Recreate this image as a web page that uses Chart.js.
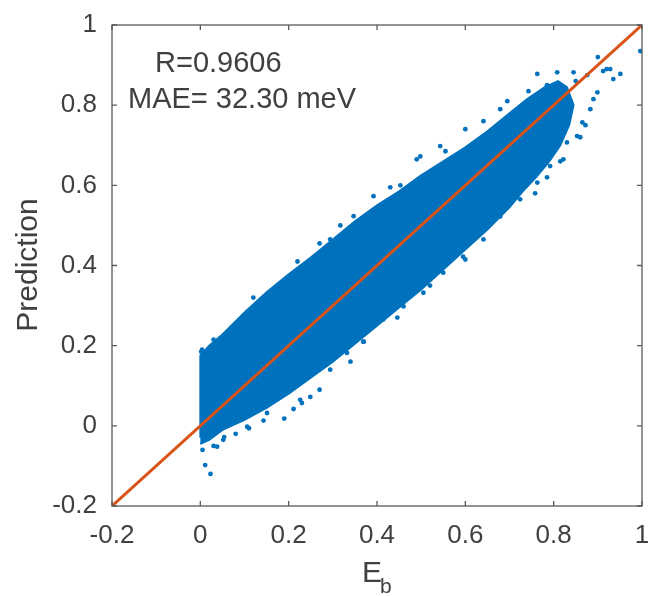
<!DOCTYPE html>
<html>
<head>
<meta charset="utf-8">
<title>Prediction vs Eb</title>
<script src="https://cdn.jsdelivr.net/npm/chart.js@4.4.0/dist/chart.umd.min.js"></script>
<style>
    body { margin: 0; background: #fff; }
    #wrap { width: 649px; height: 596px; }
</style>
</head>
<body>
<div id="wrap"><canvas id="scatter-chart" width="649" height="596"></canvas></div>
<script>
    "use strict";

    // Axis ticks
    var xTicks = [-0.2, 0, 0.2, 0.4, 0.6, 0.8, 1];
    var xTickLabels = ["-0.2", "0", "0.2", "0.4", "0.6", "0.8", "1"];
    var yTicks = [-0.2, 0, 0.2, 0.4, 0.6, 0.8, 1];
    var yTickLabels = ["-0.2", "0", "0.2", "0.4", "0.6", "0.8", "1"];

    // Dense part of the cloud (outline, upper edge then back along the lower edge)
    var bandX = [0, 0, 0.02, 0.05, 0.10, 0.15, 0.20, 0.25, 0.30, 0.35, 0.40, 0.45, 0.50, 0.55, 0.60, 0.65, 0.70, 0.74, 0.78, 0.81, 0.83,
                 0.845, 0.835, 0.815, 0.79, 0.76, 0.73, 0.70, 0.65, 0.60, 0.55, 0.50, 0.45, 0.40, 0.35, 0.30, 0.25, 0.20, 0.15, 0.10, 0.05, 0.02, 0];
    var bandY = [-0.03, 0.175, 0.20, 0.228, 0.283, 0.333, 0.378, 0.42, 0.465, 0.51, 0.55, 0.585, 0.625, 0.66, 0.695, 0.735, 0.78, 0.815, 0.845, 0.86, 0.845,
                 0.80, 0.75, 0.70, 0.66, 0.62, 0.585, 0.545, 0.49, 0.44, 0.39, 0.34, 0.295, 0.25, 0.205, 0.16, 0.12, 0.08, 0.045, 0.015, -0.01, -0.035, -0.045];

    // Loose points around the cloud
    var outX = [0.011, 0.023, 0.03, 0.052, 0.054, 0.11, 0.143, 0.19, 0.211, 0.23, 0.249, 0.08, 0.005, 0.038, 0.106, 0.151, 0.226,
                0.294, 0.332, 0.369, 0.414, 0.46, 0.505, 0.55, 0.595, 0.641, 0.679, 0.724, 0.763, 0.792, 0.822, 0.83, 0.853, 0.865,
                0.883, 0.89, 0.899, 0.86, 0.872, 0.815, 0.785, 0.758, 0.71, 0.672, 0.60, 0.52, 0.446, 0.37, 0.34, 0.27,
                0.002, 0.004, 0.03, 0.083, 0.12, 0.166, 0.22, 0.27, 0.294, 0.317, 0.347, 0.392, 0.43, 0.453, 0.49, 0.498,
                0.543, 0.555, 0.60, 0.641, 0.679, 0.695, 0.743, 0.763, 0.785, 0.808, 0.845, 0.85, 0.876, 0.90, 0.912, 0.92,
                0.928, 0.935, 0.951, 0.996];
    var outY = [-0.098, -0.12, -0.05, -0.035, -0.028, -0.006, 0.013, 0.018, 0.042, 0.057, 0.072, -0.02, -0.06, -0.052, -0.002, 0.032, 0.065,
                0.14, 0.182, 0.21, 0.265, 0.298, 0.332, 0.382, 0.422, 0.465, 0.522, 0.565, 0.607, 0.648, 0.665, 0.707, 0.723, 0.757,
                0.79, 0.815, 0.832, 0.72, 0.75, 0.66, 0.62, 0.58, 0.565, 0.528, 0.415, 0.35, 0.27, 0.21, 0.16, 0.09,
                0.185, 0.19, 0.215, 0.248, 0.32, 0.34, 0.41, 0.455, 0.465, 0.50, 0.523, 0.573, 0.595, 0.60, 0.665, 0.672,
                0.698, 0.685, 0.74, 0.76, 0.79, 0.81, 0.835, 0.878, 0.85, 0.882, 0.882, 0.86, 0.875, 0.92, 0.885, 0.89,
                0.89, 0.865, 0.878, 0.935];

    // y = x reference line
    var refX = [-0.2, 1];
    var refY = [-0.2, 1];

    // Text
    var annoLines = ["R=0.9606", "MAE= 32.30 meV"];
    var yTitle = "Prediction";
    var xTitleMain = "E";
    var xTitleSub = "b";

    var FONT = "'Liberation Sans', Arial, Helvetica, sans-serif";
    var TEXT = "#404040";
    var AXIS = "#5a5a5a";

    function toPoints(xs, ys) {
        return xs.map(function (x, i) { return { x: x, y: ys[i] }; });
    }

    // Box, inward ticks, titles and annotation
    var decorations = {
        id: "decorations",
        afterDatasetsDraw: function (chart) {
            var ctx = chart.ctx;
            var a = chart.chartArea;
            var sx = chart.scales.x, sy = chart.scales.y;
            ctx.save();
            ctx.strokeStyle = AXIS;
            ctx.lineWidth = 1.3;
            ctx.strokeRect(a.left, a.top, a.right - a.left, a.bottom - a.top);
            ctx.beginPath();
            xTicks.forEach(function (v) {
                var px = sx.getPixelForValue(v);
                ctx.moveTo(px, a.bottom); ctx.lineTo(px, a.bottom - 5);
                ctx.moveTo(px, a.top); ctx.lineTo(px, a.top + 5);
            });
            yTicks.forEach(function (v) {
                var py = sy.getPixelForValue(v);
                ctx.moveTo(a.left, py); ctx.lineTo(a.left + 5, py);
                ctx.moveTo(a.right, py); ctx.lineTo(a.right - 5, py);
            });
            ctx.stroke();

            ctx.fillStyle = TEXT;
            // annotation
            ctx.font = "29px " + FONT;
            ctx.textAlign = "left";
            ctx.textBaseline = "alphabetic";
            ctx.fillText(annoLines[0], 155, 72);
            ctx.fillText(annoLines[1], 128, 108);

            // x title with subscript
            ctx.font = "30px " + FONT;
            ctx.fillText(xTitleMain, 362, 582);
            ctx.font = "21px " + FONT;
            ctx.fillText(xTitleSub, 380, 593);

            // y title
            ctx.translate(37, 265);
            ctx.rotate(-Math.PI / 2);
            ctx.font = "30px " + FONT;
            ctx.textAlign = "center";
            ctx.fillText(yTitle, 0, 0);
            ctx.restore();
        }
    };

    var ctx1 = document.getElementById("scatter-chart").getContext("2d");
    var myChart1 = new Chart(ctx1, {
        type: "scatter",
        data: {
            datasets: [{
                label: "y = x",
                data: toPoints(refX, refY),
                showLine: true,
                borderColor: "#D95319",
                borderWidth: 3,
                pointRadius: 0,
                fill: false,
                order: 0
            }, {
                label: "loose points",
                data: toPoints(outX, outY),
                backgroundColor: "#0072BD",
                borderColor: "#0072BD",
                borderWidth: 0,
                pointRadius: 2.4,
                order: 1
            }, {
                label: "dense cloud",
                data: toPoints(bandX, bandY),
                showLine: true,
                fill: "shape",
                tension: 0,
                backgroundColor: "#0072BD",
                borderColor: "#0072BD",
                borderWidth: 2,
                pointRadius: 0,
                order: 2
            }]
        },
        options: {
            responsive: false,
            animation: false,
            events: [],
            layout: { padding: { top: 25, right: 7, left: 0, bottom: 0 } },
            plugins: {
                legend: { display: false },
                tooltip: { enabled: false }
            },
            scales: {
                x: {
                    type: "linear",
                    min: -0.2,
                    max: 1,
                    afterBuildTicks: function (scale) {
                        scale.ticks = xTicks.map(function (v) { return { value: v }; });
                    },
                    afterFit: function (scale) {
                        scale.height = 90;
                        scale.paddingLeft = 0;
                        scale.paddingRight = 0;
                    },
                    grid: { display: false, drawTicks: false },
                    border: { display: false },
                    ticks: {
                        autoSkip: false,
                        maxRotation: 0,
                        padding: 14,
                        color: TEXT,
                        font: { family: FONT, size: 26 },
                        callback: function (value, index) { return xTickLabels[index]; }
                    }
                },
                y: {
                    type: "linear",
                    min: -0.2,
                    max: 1,
                    afterBuildTicks: function (scale) {
                        scale.ticks = yTicks.map(function (v) { return { value: v }; });
                    },
                    afterFit: function (scale) {
                        scale.width = 112;
                        scale.paddingTop = 0;
                        scale.paddingBottom = 0;
                    },
                    grid: { display: false, drawTicks: false },
                    border: { display: false },
                    ticks: {
                        autoSkip: false,
                        padding: 15,
                        color: TEXT,
                        font: { family: FONT, size: 26 },
                        callback: function (value, index) { return yTickLabels[index]; }
                    }
                }
            }
        },
        plugins: [decorations]
    });
</script>
</body>
</html>
